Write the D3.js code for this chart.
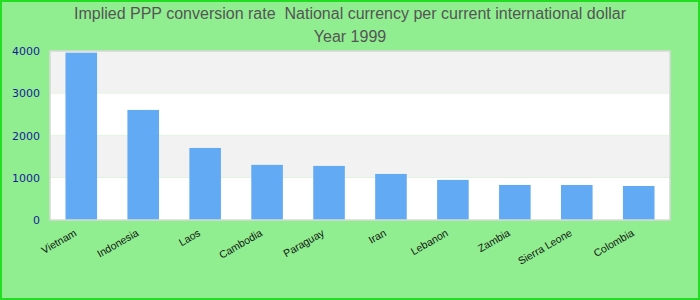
<!DOCTYPE html>
<html>
<head>
<meta charset="utf-8">
<script src="https://cdn.jsdelivr.net/npm/d3@7"></script>
<style>
  body { margin: 0; }
  svg { display: block; }
</style>
</head>
<body>
<svg class="chart"></svg>
<script>
var titleLines = ['Implied PPP conversion rate  National currency per current international dollar', 'Year 1999'];
var countries = ['Vietnam', 'Indonesia', 'Laos', 'Cambodia', 'Paraguay', 'Iran', 'Lebanon', 'Zambia', 'Sierra Leone', 'Colombia'];
var values = [3960, 2605, 1705, 1305, 1280, 1090, 950, 830, 828, 805];
var yTicks = [0, 1000, 2000, 3000, 4000];

var svgWidth = 700;
var svgHeight = 300;
var borders = {
  left: 50,
  right: 30,
  top: 51,
  bottom: 80
};
var innerWidth = svgWidth - (borders.left + borders.right);
var innerHeight = svgHeight - (borders.top + borders.bottom);

var svg = d3.select('.chart')
  .attr('width', svgWidth)
  .attr('height', svgHeight);

// background + frame
svg.append('rect')
  .attr('x', 1)
  .attr('y', 1)
  .attr('width', svgWidth - 2)
  .attr('height', svgHeight - 2)
  .attr('fill', '#90ee90')
  .attr('stroke', '#22dd22')
  .attr('stroke-width', 2);

svg.selectAll('.title')
  .data(titleLines)
  .enter()
  .append('text')
  .attr('class', 'title')
  .attr('x', svgWidth / 2)
  .attr('y', function (d, i) { return 19 + i * 23; })
  .attr('text-anchor', 'middle')
  .style('white-space', 'pre')
  .style('font-family', 'Liberation Sans, Arial, sans-serif')
  .style('font-size', '16px')
  .style('fill', '#555')
  .text(function (d) { return d; });

var xScale = d3.scaleBand()
  .domain(countries)
  .range([0, innerWidth])
  .paddingInner(0.49)
  .paddingOuter(0.25);

var yScale = d3.scaleLinear()
  .domain([0, 4000])
  .range([innerHeight, 0]);

var g = svg.append('g')
  .attr('transform', 'translate(' + borders.left + ',' + borders.top + ')');

// stripes
var bands = yTicks.slice(0, -1);
g.selectAll('.band')
  .data(bands)
  .enter()
  .append('rect')
  .attr('class', 'band')
  .attr('x', 0)
  .attr('width', innerWidth)
  .attr('y', function (d) { return yScale(d + 1000); })
  .attr('height', function (d) { return yScale(d) - yScale(d + 1000); })
  .attr('fill', function (d, i) { return i % 2 === 0 ? '#ffffff' : '#f2f2f2'; });

g.selectAll('.bar')
  .data(values)
  .enter()
  .append('rect')
  .attr('class', 'bar')
  .attr('x', function (d, i) { return xScale(countries[i]); })
  .attr('width', xScale.bandwidth())
  .attr('y', function (d) { return yScale(d); })
  .attr('height', function (d) { return innerHeight - yScale(d); })
  .attr('fill', '#63aaf5');

g.append('rect')
  .attr('x', 0)
  .attr('y', 0)
  .attr('width', innerWidth)
  .attr('height', innerHeight)
  .attr('fill', 'none')
  .attr('stroke', '#d8d8d8')
  .attr('stroke-width', 1.5);

var yAxis = d3.axisLeft(yScale)
  .tickValues(yTicks)
  .tickFormat(d3.format('d'))
  .tickSize(0)
  .tickPadding(10);

var yG = g.append('g').call(yAxis);
yG.select('.domain').remove();
yG.selectAll('text')
  .style('font-family', 'DejaVu Sans, sans-serif')
  .style('font-size', '11px')
  .style('fill', '#1a1a9a');

var xAxis = d3.axisBottom(xScale)
  .tickSize(0)
  .tickPadding(0);

var xG = g.append('g')
  .attr('transform', 'translate(0,' + innerHeight + ')')
  .call(xAxis);
xG.select('.domain').remove();
xG.selectAll('text')
  .attr('text-anchor', 'end')
  .attr('dy', 0)
  .attr('transform', 'translate(-4,15) rotate(-30)')
  .style('font-family', 'Liberation Sans, Arial, sans-serif')
  .style('font-size', '10.5px')
  .style('fill', '#111');
</script>
</body>
</html>
